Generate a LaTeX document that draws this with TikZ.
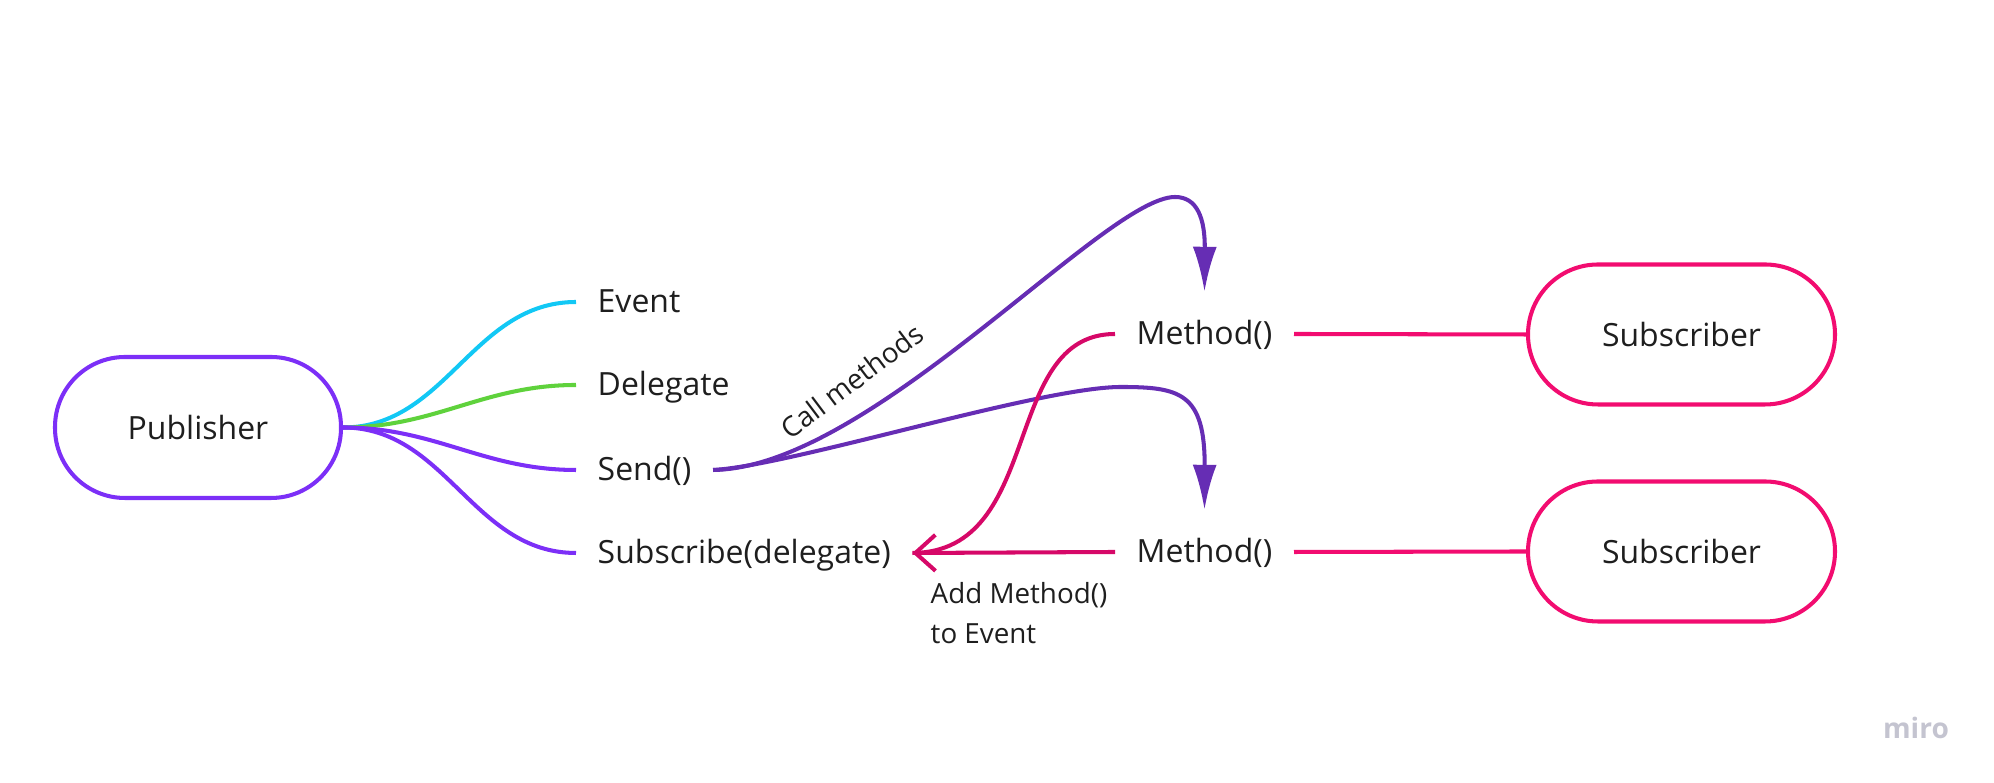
\documentclass[tikz,border=0pt]{standalone}
\usepackage{fontspec}
\setmainfont{Open Sans}
\usetikzlibrary{arrows.meta}
\definecolor{pubviolet}{RGB}{124,47,247}
\definecolor{evcyan}{RGB}{18,200,245}
\definecolor{delgreen}{RGB}{95,210,60}
\definecolor{callpurple}{RGB}{102,45,180}
\definecolor{subpink}{RGB}{242,12,112}
\definecolor{addcrimson}{RGB}{214,8,104}
\definecolor{textgrey}{RGB}{30,30,30}
\definecolor{logogrey}{RGB}{196,196,208}
\tikzset{pubbox/.style={draw=pubviolet,line width=1.15pt,rounded corners=0.7cm,minimum width=2.86cm,minimum height=1.41cm,font=\fontsize{9.1}{11}\selectfont,text=textgrey},
         subbox/.style={pubbox,draw=subpink,minimum width=3.07cm,minimum height=1.40cm},
         member/.style={anchor=west,inner xsep=0.21cm,inner ysep=0.27cm,text height=0.25cm,text depth=0.04cm,font=\fontsize{9.1}{11}\selectfont,text=textgrey},
         note/.style={font=\fontsize{7.9}{11.4}\selectfont,text=textgrey,inner sep=0pt},
         branch/.style={line width=1.15pt},
         call/.style={line width=1.15pt,draw=callpurple,-{Latex[length=4.5mm,width=2.4mm]}},
        }
\begin{document}
\begin{tikzpicture}
        \useasboundingbox (0,0) rectangle (19.94,7.83);
        \node[pubbox](pub)at(1.98,3.555){Publisher};
        \node[member](event)at(5.76,4.81){Event};
        \node[member](deleg)at(5.76,3.98){Delegate};
        \node[member](send)at(5.76,3.13){Send()};
        \node[member](subscr)at(5.76,2.30){Subscribe(delegate)};
        \draw[branch,evcyan](pub.east)to[out=0,in=180](event.west);
        \draw[branch,delgreen](pub.east)to[out=0,in=180](deleg.west);
        \draw[branch,pubviolet](pub.east)to[out=0,in=180](send.west);
        \draw[branch,pubviolet](pub.east)to[out=0,in=180](subscr.west);

        \node[member](m1)at(11.15,4.49){Method()};
        \node[member](m2)at(11.15,2.31){Method()};
        \node[subbox](s1)at(16.815,4.485){Subscriber};
        \node[subbox](s2)at(16.815,2.315){Subscriber};
        \draw[branch,subpink](m1.east)--(s1.west);
        \draw[branch,subpink](m2.east)--(s2.west);

        \draw[call](send.east).. controls (8.7,3.15) and (11.05,5.86) ..(11.75,5.86)
                   .. controls (11.97,5.86) and (12.05,5.65) ..(m1.north);
        \draw[call](send.east).. controls (7.9,3.17) and (10.4,3.96) ..(11.21,3.96)
                   .. controls (11.8,3.96) and (12.05,3.9) ..(m2.north);
        \node[note,rotate=37](calllbl)at(8.52,4.02){Call methods};

        \draw[branch,addcrimson](m1.west).. controls (10.0,4.49) and (10.45,2.31) ..(subscr.east);
        \draw[branch,addcrimson,-{Straight Barb[length=2mm,width=3.6mm]}](m2.west)--(subscr.east);
        \node[note,anchor=west,align=left](addlbl)at(9.30,1.70){Add Method()\\to Event};

        \node[font=\bfseries\fontsize{8}{10}\selectfont,text=logogrey](logo)at(19.16,0.55){miro};
    \end{tikzpicture}
\end{document}
